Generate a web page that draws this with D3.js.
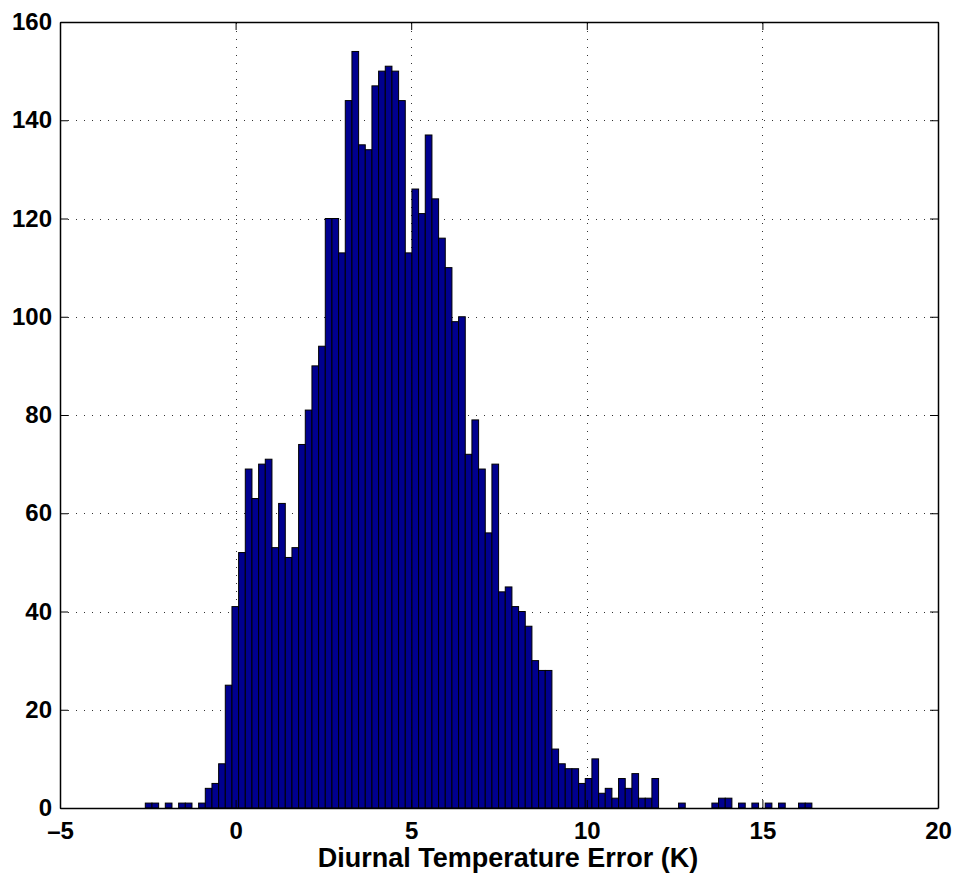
<!DOCTYPE html>
<html>
<head>
<meta charset="utf-8">
<script src="https://cdn.jsdelivr.net/npm/d3@7"></script>
<style>
  body { margin: 0; background: #fff; }
  text { font-family: "Liberation Sans", Arial, Helvetica, sans-serif; font-weight: bold; }
</style>
</head>
<body>
<svg id="chart" width="960" height="876"></svg>
<script>
// histogram counts, 100 bins
const binStart = -2.571;
const binWidth = 0.1898;
const counts = [
  1, 1, 0, 1, 0, 1, 1, 0, 1, 4,
  5, 9, 25, 41, 52, 69, 63, 70, 71, 53,
  62, 51, 53, 74, 81, 90, 94, 120, 120, 113,
  144, 154, 135, 134, 147, 150, 151, 150, 144, 113,
  126, 121, 137, 124, 116, 110, 99, 100, 72, 79,
  69, 56, 70, 44, 45, 41, 40, 37, 30, 28,
  28, 12, 9, 8, 8, 5, 6, 10, 3, 4,
  2, 6, 4, 7, 2, 2, 6, 0, 0, 0,
  1, 0, 0, 0, 0, 1, 2, 2, 0, 1,
  0, 1, 0, 1, 0, 1, 0, 0, 1, 1
];
const xTicks = [-5, 0, 5, 10, 15, 20];
const yTicks = [0, 20, 40, 60, 80, 100, 120, 140, 160];
const xLabel = "Diurnal Temperature Error (K)";

const margin = { left: 60, right: 22, top: 22, bottom: 68 };
const width = 960, height = 876;

const svg = d3.select("#chart");

const x = d3.scaleLinear().domain([-5, 20]).range([margin.left, width - margin.right]);
const y = d3.scaleLinear().domain([0, 160]).range([height - margin.bottom, margin.top]);

const bins = counts.map((c, i) => ({
  x0: binStart + i * binWidth,
  x1: binStart + (i + 1) * binWidth,
  count: c,
}));

// grid
const grid = svg.append("g").attr("stroke", "#333").attr("stroke-width", 1)
  .attr("stroke-dasharray", "1,7");
grid.selectAll("line.gx")
  .data(xTicks.slice(1, -1))
  .join("line")
  .attr("x1", (d) => Math.round(x(d)) + 0.5)
  .attr("x2", (d) => Math.round(x(d)) + 0.5)
  .attr("y1", y(0))
  .attr("y2", y(160));
grid.selectAll("line.gy")
  .data(yTicks.slice(1, -1))
  .join("line")
  .attr("x1", x(-5))
  .attr("x2", x(20))
  .attr("y1", (d) => Math.round(y(d)) + 0.5)
  .attr("y2", (d) => Math.round(y(d)) + 0.5);

// bars
svg.append("g")
  .selectAll("rect")
  .data(bins.filter((b) => b.count > 0))
  .join("rect")
  .attr("x", (b) => x(b.x0))
  .attr("width", (b) => x(b.x1) - x(b.x0))
  .attr("y", (b) => y(b.count))
  .attr("height", (b) => y(0) - y(b.count))
  .attr("fill", "#00008f")
  .attr("stroke", "#000")
  .attr("stroke-width", 1);

// axes box + inward ticks
const tickLen = 8;
const xAxisB = d3.axisBottom(x).tickValues(xTicks).tickSizeInner(-tickLen).tickSizeOuter(0)
  .tickPadding(14).tickFormat((d) => (d < 0 ? "\u2013" + Math.abs(d) : d));
const xAxisT = d3.axisTop(x).tickValues(xTicks).tickSizeInner(-tickLen).tickSizeOuter(0).tickFormat("");
const yAxisL = d3.axisLeft(y).tickValues(yTicks).tickSizeInner(-tickLen).tickSizeOuter(0).tickPadding(8);
const yAxisR = d3.axisRight(y).tickValues(yTicks).tickSizeInner(-tickLen).tickSizeOuter(0).tickFormat("");

const styleAxis = (g) => {
  g.select(".domain").attr("stroke", "#000").attr("stroke-width", 1.5);
  g.selectAll(".tick line").attr("stroke", "#000").attr("stroke-width", 1);
  g.selectAll(".tick text").attr("fill", "#000").attr("font-size", 24);
};

svg.append("g").attr("transform", `translate(0,${y(0)})`).call(xAxisB).call(styleAxis);
svg.append("g").attr("transform", `translate(0,${y(160)})`).call(xAxisT).call(styleAxis);
svg.append("g").attr("transform", `translate(${x(-5)},0)`).call(yAxisL).call(styleAxis);
svg.append("g").attr("transform", `translate(${x(20)},0)`).call(yAxisR).call(styleAxis);

svg.selectAll(".tick text").attr("font-family", "'Liberation Sans', Arial, sans-serif").attr("font-weight", "bold");

svg.append("text")
  .attr("x", 508)
  .attr("y", 867)
  .attr("text-anchor", "middle")
  .attr("font-size", 27)
  .text(xLabel);
</script>
</body>
</html>
